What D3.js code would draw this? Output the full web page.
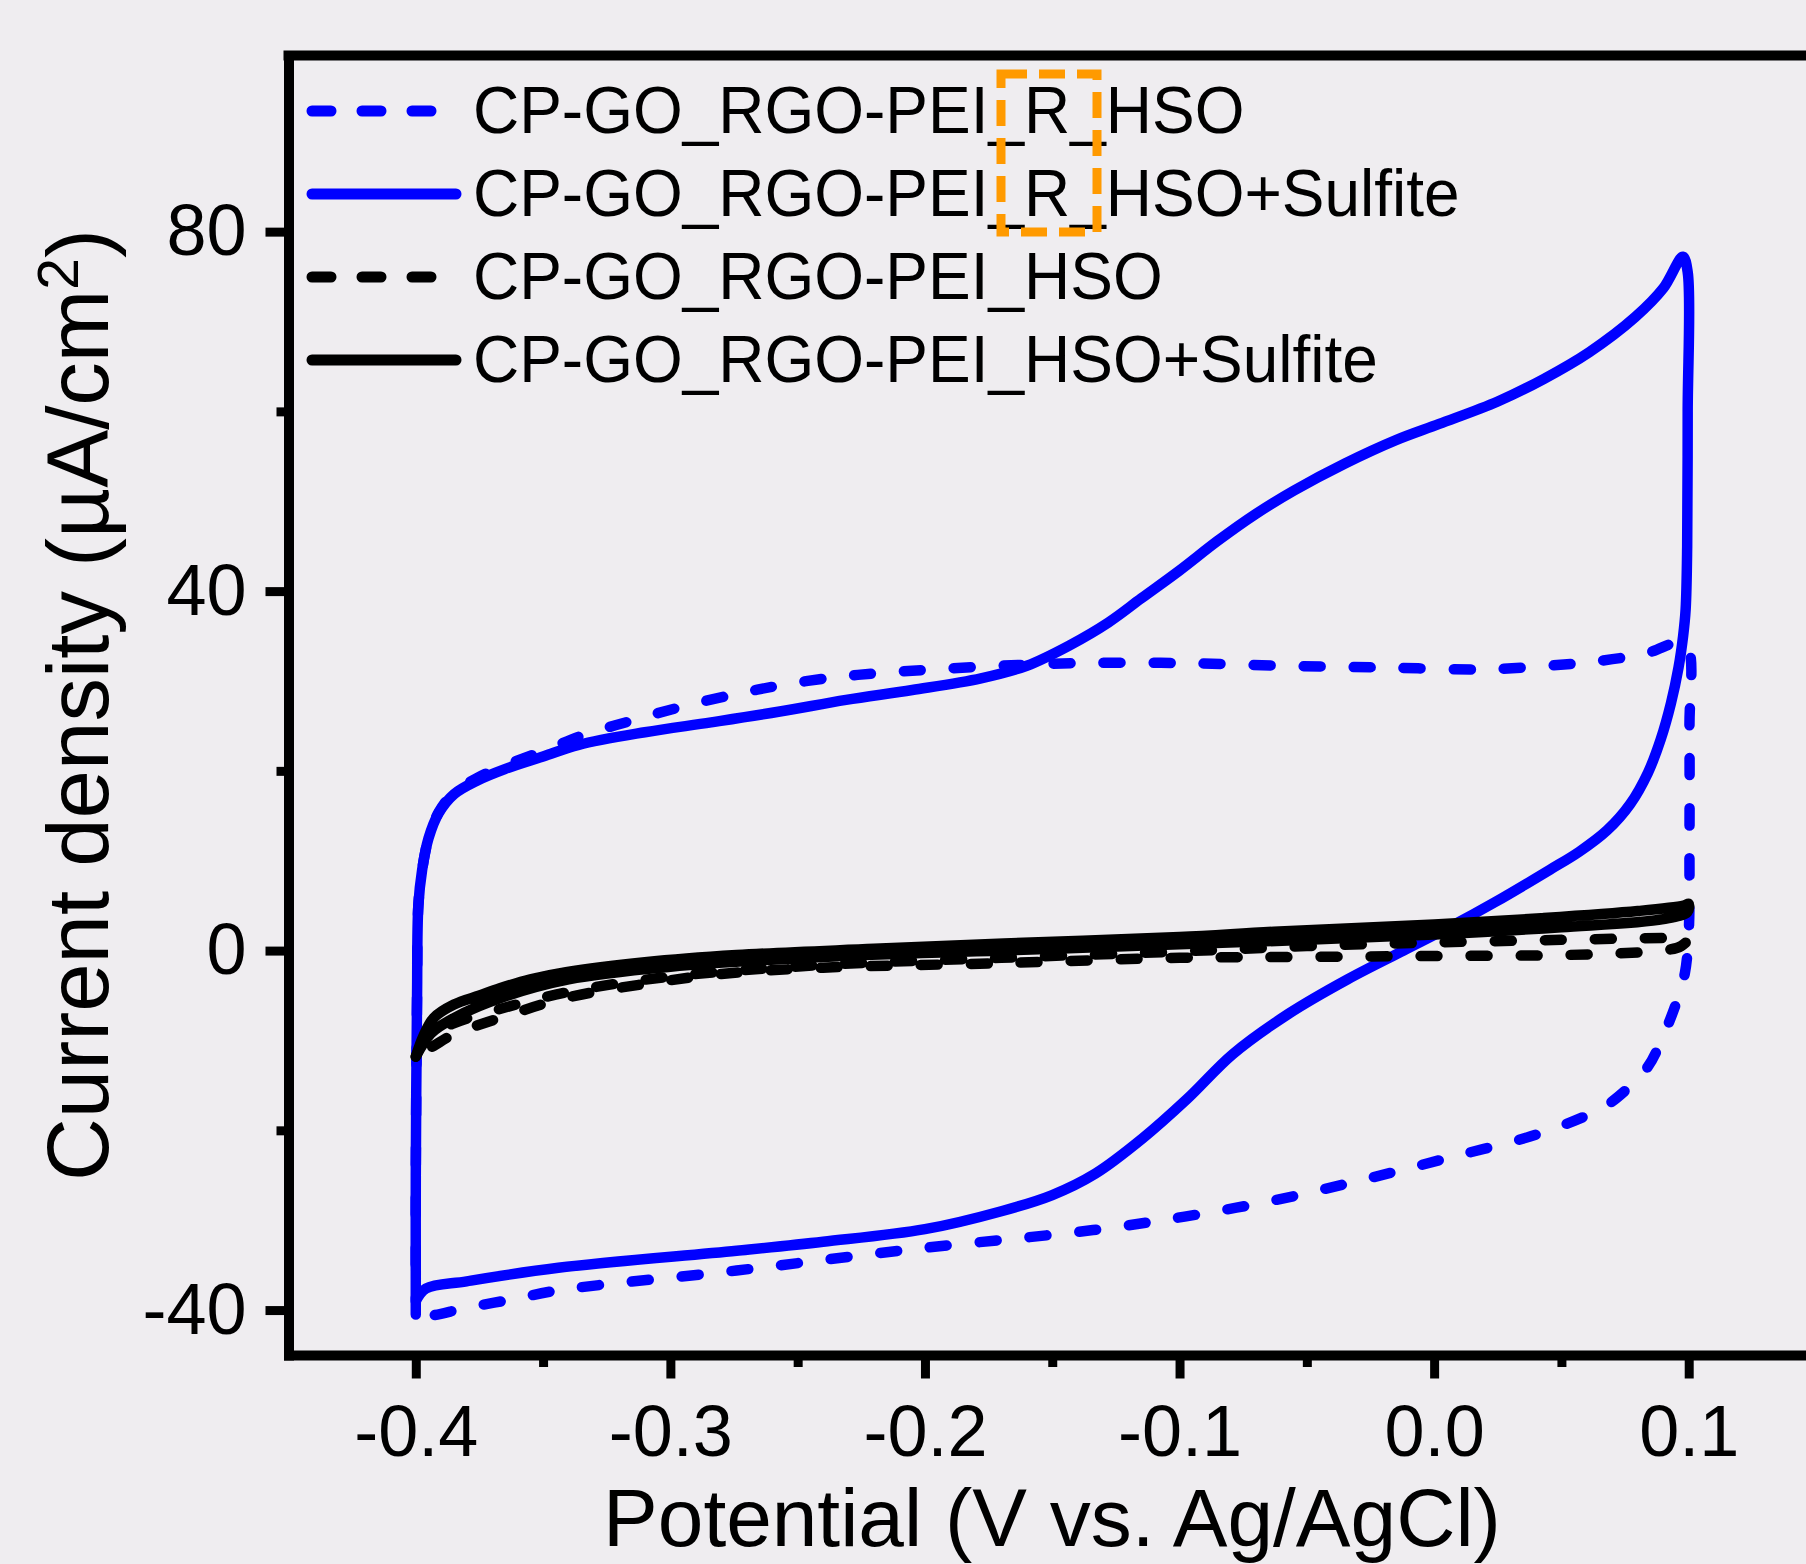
<!DOCTYPE html>
<html>
<head>
<meta charset="utf-8">
<script src="https://cdnjs.cloudflare.com/ajax/libs/d3/7.8.5/d3.min.js"></script>
<style>
  body { margin: 0; background: #efedf0; }
  svg { display: block; }
  text { font-family: "Liberation Sans", Arial, sans-serif; fill: #000; }
</style>
</head>
<body>
<script>
// CV loops, [potential (V), current density (uA/cm2)]
const rHso = [
    [-0.4, -40.5], [-0.4, -25], [-0.3995, -5], [-0.399, 5], [-0.3975, 9], [-0.395, 12.5], [-0.391, 15.4],
    [-0.385, 17.6], [-0.376, 19.2], [-0.365, 20.6], [-0.35, 22.2], [-0.334, 24.0], [-0.315, 25.6],
    [-0.296, 27.1], [-0.275, 28.5], [-0.257, 29.5], [-0.236, 30.4], [-0.217, 30.9], [-0.196, 31.3],
    [-0.17, 31.7], [-0.138, 32.0], [-0.1, 32.0], [-0.06, 31.7], [-0.02, 31.5], [0.02, 31.3], [0.045, 31.7],
    [0.064, 32.2], [0.0835, 33.1], [0.0965, 34.3], [0.1, 33.5], [0.1003, 25], [0.1003, 12], [0.1, 2],
    [0.0985, -2.5], [0.0955, -5.5], [0.09, -9.5], [0.084, -12.9], [0.075, -15.6], [0.066, -17.5],
    [0.042, -20.3], [0.0065, -23.0], [-0.028, -25.5], [-0.063, -27.8], [-0.098, -29.6], [-0.134, -31.1],
    [-0.204, -33.2], [-0.274, -35.6], [-0.344, -37.8], [-0.362, -38.8], [-0.381, -39.8], [-0.394, -40.6],
    [-0.4, -40.5]
];
const rHsoSulfite = [
    [-0.4, -39.0], [-0.4, -25], [-0.3995, -5], [-0.399, 5], [-0.3975, 9], [-0.395, 12.5], [-0.391, 15.3],
    [-0.385, 17.4], [-0.376, 18.9], [-0.365, 20.2], [-0.35, 21.6], [-0.336, 22.9], [-0.31, 24.3],
    [-0.284, 25.4], [-0.257, 26.6], [-0.231, 27.9], [-0.205, 29.0], [-0.178, 30.3], [-0.16, 31.7],
    [-0.143, 34.0], [-0.128, 36.5], [-0.115, 39.2], [-0.1, 42.3], [-0.085, 45.6], [-0.07, 48.6],
    [-0.055, 51.2], [-0.035, 54.2], [-0.015, 56.8], [0.002, 58.6], [0.025, 61.1], [0.043, 63.6],
    [0.061, 66.6], [0.079, 70.5], [0.09, 73.7], [0.0977, 77.2], [0.0996, 75.5], [0.0996, 60],
    [0.0994, 45], [0.0988, 38], [0.0978, 35], [0.096, 31.5], [0.093, 27.5], [0.089, 23.5], [0.084, 19.8],
    [0.077, 16.3], [0.068, 13.4], [0.057, 11.0], [0.0455, 9.0], [0.024, 5.4], [0.006, 2.6], [-0.012, 0],
    [-0.034, -3.2], [-0.057, -7.0], [-0.079, -11.5], [-0.097, -16.5], [-0.115, -21.0], [-0.133, -24.8],
    [-0.15, -27.2], [-0.17, -29.0], [-0.2, -31.0], [-0.24, -32.4], [-0.274, -33.4], [-0.344, -35.3],
    [-0.38, -36.8], [-0.396, -37.6], [-0.4, -39.0]
];
const hso = [
    [-0.4, -11.8], [-0.396, -9.8], [-0.386, -8.2], [-0.367, -6.5], [-0.34, -4.6], [-0.3, -2.9],
    [-0.24, -1.6], [-0.17, -0.8], [-0.1, -0.1], [-0.05, 0.5], [0, 0.9], [0.05, 1.2], [0.09, 1.4], [0.1, 1.4],
    [0.097, 0.5], [0.09, 0.0], [0.08, -0.2], [0.05, -0.5], [0, -0.6], [-0.05, -0.7], [-0.1, -0.8],
    [-0.17, -1.4], [-0.24, -1.9], [-0.28, -2.6], [-0.3, -3.3], [-0.34, -5.2], [-0.367, -7.5],
    [-0.385, -9.3], [-0.393, -10.6], [-0.4, -11.8]
];
const hsoSulfite = [
    [-0.4, -11.8], [-0.397, -9.5], [-0.393, -7.5], [-0.385, -6.0], [-0.375, -5.0], [-0.367, -4.2],
    [-0.355, -3.2], [-0.341, -2.4], [-0.31, -1.3], [-0.274, -0.5], [-0.22, 0.2], [-0.169, 0.8],
    [-0.1, 1.5], [-0.063, 2.1], [0, 2.9], [0.042, 3.6], [0.08, 4.4], [0.098, 5.0], [0.1, 5.2],
    [0.0995, 4.3], [0.09, 3.5], [0.05, 2.6], [0, 1.8], [-0.05, 1.2], [-0.1, 0.7], [-0.17, 0.0],
    [-0.24, -0.7], [-0.3, -1.8], [-0.34, -3.2], [-0.367, -5.3], [-0.385, -7.5], [-0.394, -9.2],
    [-0.4, -11.8]
];

const legendLabels = ["CP-GO_RGO-PEI_R_HSO", "CP-GO_RGO-PEI_R_HSO+Sulfite", "CP-GO_RGO-PEI_HSO", "CP-GO_RGO-PEI_HSO+Sulfite"];
const xTicks = [-0.4, -0.3, -0.2, -0.1, 0.0, 0.1];
const xMinorTicks = [-0.35, -0.25, -0.15, -0.05, 0.05];
const yTicks = [-40, 0, 40, 80];
const yMinorTicks = [-20, 20, 60];

const width = 1806;
const height = 1564;

const svg = d3.select("body").append("svg")
    .attr("width", width)
    .attr("height", height);

svg.append("rect")
    .attr("width", width)
    .attr("height", height)
    .attr("fill", "#efedf0");

// scales
const x = d3.scaleLinear().domain([-0.45, 0.15]).range([288.5, 1816]);
const y = d3.scaleLinear().domain([-45, 99.6]).range([1355, 55.5]);

// series styles, drawn in this order
const series = [
    { data: rHso, color: "#0000ff", dashed: true },
    { data: rHsoSulfite, color: "#0000ff", dashed: false },
    { data: hso, color: "#000000", dashed: true },
    { data: hsoSulfite, color: "#000000", dashed: false }
];

const line = d3.line()
    .x(d => x(d[0]))
    .y(d => y(d[1]))
    .curve(d3.curveCatmullRom.alpha(0.5));

series.forEach(s => {
    svg.append("path")
        .attr("d", line(s.data))
        .attr("fill", "none")
        .attr("stroke", s.color)
        .attr("stroke-width", 10.5)
        .attr("stroke-linejoin", "round")
        .attr("stroke-linecap", "round")
        .attr("stroke-dasharray", s.dashed ? "17,33" : null);
});

// axes
function styleAxis(g) {
    g.select(".domain").attr("stroke-width", 10).attr("stroke-linecap", "square");
    g.selectAll(".tick line").attr("stroke-width", 9);
    g.selectAll(".tick text").attr("font-size", 72).attr("font-family", null);
}

svg.append("g")
    .attr("transform", "translate(0," + y(-45) + ")")
    .call(d3.axisBottom(x).tickValues(xMinorTicks).tickSize(12).tickSizeOuter(0).tickFormat(""))
    .call(g => g.select(".domain").remove())
    .call(g => g.selectAll(".tick line").attr("stroke-width", 9));

svg.append("g")
    .attr("transform", "translate(0," + y(-45) + ")")
    .call(d3.axisBottom(x).tickValues(xTicks).tickSize(23.5).tickSizeOuter(0).tickPadding(26)
        .tickFormat(d => d.toFixed(1)))
    .call(styleAxis);

svg.append("g")
    .attr("transform", "translate(" + x(-0.45) + ",0)")
    .call(d3.axisLeft(y).tickValues(yMinorTicks).tickSize(12).tickSizeOuter(0).tickFormat(""))
    .call(g => g.select(".domain").remove())
    .call(g => g.selectAll(".tick line").attr("stroke-width", 9));

svg.append("g")
    .attr("transform", "translate(" + x(-0.45) + ",0)")
    .call(d3.axisLeft(y).tickValues(yTicks).tickSize(23).tickSizeOuter(0).tickPadding(19)
        .tickFormat(d => String(d)))
    .call(styleAxis);

// top and right frame
svg.append("path")
    .attr("d", "M" + x(-0.45) + "," + y(99.6) + "H" + x(0.15) + "V" + y(-45))
    .attr("fill", "none")
    .attr("stroke", "#000")
    .attr("stroke-width", 10)
    .attr("stroke-linecap", "square");

// axis titles
svg.append("text")
    .attr("x", 1052)
    .attr("y", 1546)
    .attr("text-anchor", "middle")
    .attr("font-size", 82)
    .text("Potential (V vs. Ag/AgCl)");

const yTitle = svg.append("text")
    .attr("transform", "translate(108,705) rotate(-90)")
    .attr("text-anchor", "middle")
    .attr("font-size", 87);
yTitle.append("tspan").text("Current density (µA/cm");
yTitle.append("tspan").attr("font-size", 57).attr("dy", -30).text("2");
yTitle.append("tspan").attr("font-size", 87).attr("dy", 30).text(")");

// legend
legendLabels.forEach((label, i) => {
    const ly = 111 + i * 83;
    const s = series[i];
    svg.append("line")
        .attr("x1", 312)
        .attr("x2", s.dashed ? 433 : 456)
        .attr("y1", ly)
        .attr("y2", ly)
        .attr("stroke", s.color)
        .attr("stroke-width", 11)
        .attr("stroke-linecap", "round")
        .attr("stroke-dasharray", s.dashed ? "19,31" : null);

    svg.append("text")
        .attr("transform", "translate(473," + (ly + 22) + ") scale(0.955,1)")
        .attr("font-size", 67)
        .text(label);
});

// orange dashed box marking the "R"
svg.append("rect")
    .attr("x", 1001)
    .attr("y", 74)
    .attr("width", 96)
    .attr("height", 158)
    .attr("fill", "none")
    .attr("stroke", "#ff9a00")
    .attr("stroke-width", 9)
    .attr("stroke-dasharray", "26,12");
</script>
</body>
</html>
